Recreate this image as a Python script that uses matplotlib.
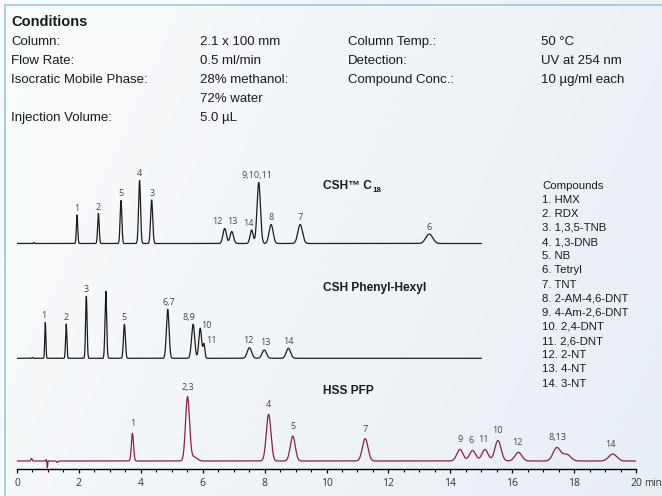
import numpy as np
import matplotlib
matplotlib.use("Agg")
import matplotlib.pyplot as plt
from matplotlib import font_manager
from matplotlib.ticker import MultipleLocator

# ---- data ----
cond_labels = ["Column:", "Flow Rate:", "Isocratic Mobile Phase:", "", "Injection Volume:"]
cond_values = ["2.1 x 100 mm", "0.5 ml/min", "28% methanol:", "72% water", "5.0 \u00b5L"]
cond2_labels = ["Column Temp.:", "Detection:", "Compound Conc.:"]
cond2_values = ["50 \u00b0C", "UV at 254 nm", "10 \u00b5g/ml each"]

compounds = ["HMX", "RDX", "1,3,5-TNB", "1,3-DNB", "NB", "Tetryl", "TNT",
             "2-AM-4,6-DNT", "4-Am-2,6-DNT", "2,4-DNT", "2,6-DNT", "2-NT", "4-NT", "3-NT"]

# peaks: retention time (min), height (px), width sigma (min)
c18_rt = [0.55, 1.94, 2.63, 3.36, 3.96, 4.35, 6.71, 6.94, 7.58, 7.81, 8.21, 9.15, 13.32]
c18_h = [1.0, 28.5, 30, 43, 63, 43.5, 15, 12, 13.5, 61, 19, 19, 9.5]
c18_sd = [0.015, 0.022, 0.025, 0.028, 0.032, 0.034, 0.055, 0.055, 0.05, 0.055, 0.065, 0.075, 0.11]

ph_rt = [0.5, 0.915, 1.59, 2.24, 2.87, 3.47, 4.87, 5.69, 5.92, 6.04, 7.51, 7.99, 8.77]
ph_h = [0.8, 35.7, 34.3, 62, 67, 34, 49, 34, 30, 14, 10.6, 8.3, 10]
ph_sd = [0.015, 0.018, 0.021, 0.024, 0.027, 0.031, 0.043, 0.05, 0.045, 0.03, 0.07, 0.07, 0.07]

pfp_rt = [0.47, 0.95, 0.98, 1.3, 3.73, 5.51, 5.72, 8.13, 8.91, 11.25,
          14.31, 14.72, 15.12, 15.54, 16.2, 17.44, 17.76, 19.25]
pfp_h = [2.5, 1.5, -6.5, -1.5, 27.7, 64, 4, 46.7, 25, 22.3,
         11.5, 10.5, 11.5, 20.5, 8.7, 13.2, 6.5, 7]
pfp_sd = [0.02, 0.01, 0.01, 0.02, 0.035, 0.065, 0.1, 0.075, 0.08, 0.09,
          0.1, 0.1, 0.1, 0.1, 0.11, 0.12, 0.13, 0.13]

# peak labels: text, label time, time of the peak it sits on, extra gap (None = default)
c18_labels = [("1", 1.92, 1.94, None), ("2", 2.63, 2.63, None), ("5", 3.36, 3.36, None),
              ("4", 3.96, 3.96, None), ("3", 4.36, 4.35, None), ("12", 6.46, 6.71, None),
              ("13", 6.97, 6.71, None), ("14", 7.48, 7.58, None), ("9,10,11", 7.77, 7.81, None),
              ("8", 8.21, 8.21, None), ("7", 9.15, 9.15, None), ("6", 13.32, 13.32, None)]
ph_labels = [("1", 0.87, 0.915, None), ("2", 1.59, 1.59, None), ("3", 2.22, 2.24, None),
             ("5", 3.46, 3.47, None), ("6,7", 4.89, 4.87, None), ("8,9", 5.56, 5.69, None),
             ("10", 6.13, 5.92, 0.5), ("11", 6.27, 6.04, 0.5), ("12", 7.47, 7.51, None),
             ("13", 8.03, 7.99, None), ("14", 8.77, 8.77, None)]
pfp_labels = [("1", 3.73, 3.73, None), ("2,3", 5.51, 5.51, None), ("4", 8.11, 8.13, None),
              ("5", 8.91, 8.91, None), ("7", 11.25, 11.25, None), ("9", 14.31, 14.31, None),
              ("6", 14.68, 14.72, None), ("11", 15.07, 15.12, None), ("10", 15.53, 15.54, None),
              ("12", 16.17, 16.2, None), ("8,13", 17.47, 17.44, None), ("14", 19.16, 19.25, None)]


def has_font(name):
    try:
        font_manager.findfont(font_manager.FontProperties(family=name), fallback_to_default=False)
        return True
    except ValueError:
        return False


BODY = "Liberation Sans" if has_font("Liberation Sans") else "DejaVu Sans"
TITLE = "Liberation Sans Narrow" if has_font("Liberation Sans Narrow") else BODY
NUM = "Open Sans" if has_font("Open Sans") else "DejaVu Sans"


def trace(t, rt, h, sd):
    y = np.zeros_like(t)
    for r, a, s in zip(rt, h, sd):
        y += a * np.exp(-0.5 * ((t - r) / s) ** 2)
    return y


fig = plt.figure(figsize=(6.62, 4.96), dpi=100)

# background with soft gradient + light blue frame
bg = fig.add_axes([0, 0, 1, 1], zorder=0)
gx = np.linspace(0, 1, 300)
gy = np.linspace(0, 1, 200)
GX, GY = np.meshgrid(gx, gy)
c0 = np.array([0.985, 0.988, 0.992])
c1 = np.array([0.905, 0.933, 0.958])
mix = np.clip(0.75 * GX + 0.25 * GY, 0, 1)[..., None]
bg.imshow(c0 * (1 - mix) + c1 * mix, extent=[0, 662, 496, 0], aspect="auto")
bg.set_xlim(0, 662)
bg.set_ylim(496, 0)
bg.axis("off")
bg.plot([5, 5, 662], [496, 5, 5], color="#9fcbe3", lw=1.3, solid_joinstyle="miter")

# conditions block
txt = dict(fontfamily=BODY, fontsize=9.5, color="#1a1a1a", va="center")
bg.text(11, 22, "Conditions", fontfamily=BODY, fontsize=10.5, fontweight="bold",
        color="#1a1a1a", va="center")
row_y = [42, 61, 80, 99, 118]
for yy, lab, val in zip(row_y, cond_labels, cond_values):
    bg.text(11, yy, lab, **txt)
    bg.text(200, yy, val, **txt)
for yy, lab, val in zip(row_y, cond2_labels, cond2_values):
    bg.text(348, yy, lab, **txt)
    bg.text(541, yy, val, **txt)

# compounds legend
leg = dict(fontfamily=BODY, fontsize=8.2, color="#1a1a1a", va="center")
bg.text(542, 185.7, "Compounds", **leg)
for i, name in enumerate(compounds):
    bg.text(542, 199.6 + i * 14.15, f"{i + 1}. {name}", **leg)

# chromatograms
ax = fig.add_axes([17 / 662, 0, 619 / 662, 1], zorder=1)
ax.patch.set_alpha(0)
ax.set_xlim(0, 20)
ax.set_ylim(496, 0)

runs = [
    (c18_rt, c18_h, c18_sd, c18_labels, 243.5, 15, "#1c1c1c", 4),
    (ph_rt, ph_h, ph_sd, ph_labels, 358.3, 15, "#1c1c1c", 4.5),
    (pfp_rt, pfp_h, pfp_sd, pfp_labels, 461, 20, "#8a1f4e", 7),
]
for rt, h, sd, labels, base, tend, col, gap in runs:
    t = np.linspace(0, tend, 4000)
    ax.plot(t, base - trace(t, rt, h, sd), color=col, lw=0.9)
    for text, tl, tref, g in labels:
        top = base - trace(np.array([tref]), rt, h, sd)[0]
        ax.text(tl, top - (gap if g is None else g), text, ha="center", va="baseline",
                fontfamily=NUM, fontsize=6.5, color="#444444", zorder=3)

ttl = dict(fontfamily=TITLE, fontsize=8.6, fontweight="bold", color="#1a1a1a", va="center")
c18_title = bg.text(322.7, 186, "CSH\u2122 C", **ttl)
bg.annotate("18", xy=(1, 0), xycoords=c18_title, xytext=(0.4, -1.2),
            textcoords="offset points", ha="left", va="bottom",
            fontfamily=TITLE, fontsize=5.8, fontweight="bold", color="#1a1a1a")
bg.text(322.7, 288, "CSH Phenyl-Hexyl", **ttl)
bg.text(322.7, 391, "HSS PFP", **ttl)

# time axis
for s in ["top", "left", "right"]:
    ax.spines[s].set_visible(False)
ax.spines["bottom"].set_position(("data", 469.3))
ax.spines["bottom"].set_linewidth(1.0)
ax.yaxis.set_visible(False)
ax.xaxis.set_major_locator(MultipleLocator(2))
ax.xaxis.set_minor_locator(MultipleLocator(0.5))
ax.tick_params(axis="x", which="major", direction="out", length=3.2, width=0.9,
               pad=3, labelsize=7.5, labelcolor="#333333")
ax.tick_params(axis="x", which="minor", direction="out", length=2, width=0.8)
for lab in ax.get_xticklabels():
    lab.set_fontfamily(NUM)
ax.text(20.25, 483, "min", ha="left", va="center", fontfamily=NUM, fontsize=7,
        color="#333333")

fig.savefig("out.png", dpi=100)
